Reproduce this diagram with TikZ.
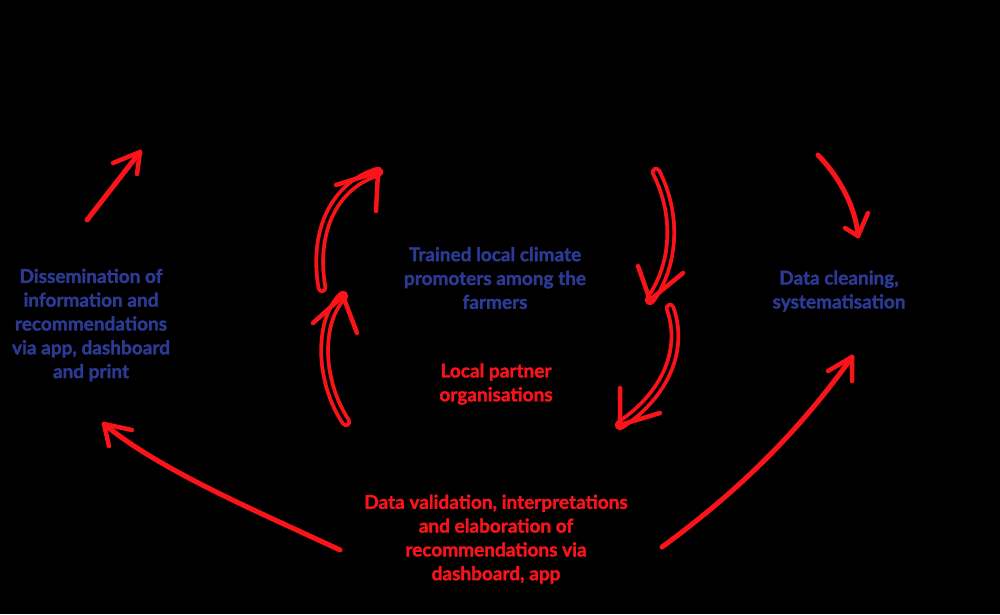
\documentclass[tikz,border=0pt]{standalone}
\usepackage{fontspec}
\setmainfont{Lato}[BoldFeatures={FakeBold=1.6}]
\definecolor{tblue}{RGB}{44,58,148}
\definecolor{tred}{RGB}{250,20,25}
\begin{document}
\begin{tikzpicture}[x=1pt,y=-1pt,
  lbl/.style={font=\fontsize{19}{23.8}\selectfont\bfseries, align=center, inner sep=0pt},
  bl/.style={lbl, text=tblue},
  rl/.style={lbl, text=tred},
  stroke/.style={draw=tred, line width=5pt, line cap=round, line join=round},
  dstroke/.style={draw=tred, line width=3.8pt, double=black, double distance=3pt, line cap=round},
  headv/.style={draw=tred, line width=4.5pt, line cap=round, line join=round}]
\fill[black] (0,0) rectangle (1000,614);
\useasboundingbox (0,0) rectangle (1000,614);

% labels
\node[bl] (diss) at (91,325) {Dissemination of\\information and\\recommendations\\via app, dashboard\\and print};
\node[bl] (trained) at (495,278) {Trained local climate\\promoters among the\\farmers};
\node[rl] (partner) at (496,384) {Local partner\\organisations};
\node[bl] (clean) at (839,291) {Data cleaning,\\systematisation};
\node[rl] (valid) at (496,539) {Data validation, interpretations\\and elaboration of\\recommendations via\\dashboard, app};

% arrow coordinates
\coordinate (a1s) at (87,220);   \coordinate (a1t) at (140,152);
\coordinate (a1w1) at (113,163); \coordinate (a1w2) at (137,174);

\coordinate (a2s) at (818,155);  \coordinate (a2t) at (858,236);
\coordinate (a2w1) at (845,228); \coordinate (a2w2) at (868,213);

\coordinate (a3s) at (340,550);  \coordinate (a3t) at (104,424);
\coordinate (a3w1) at (132,430); \coordinate (a3w2) at (109,446);

\coordinate (a4s) at (662,547);  \coordinate (a4t) at (852,357);
\coordinate (a4w1) at (828,371); \coordinate (a4w2) at (852,381);

\coordinate (b1s) at (322,288);  \coordinate (b1t) at (378,172);
\coordinate (b1w1) at (336,185); \coordinate (b1w2) at (376,211);

\coordinate (b2s) at (346,422);  \coordinate (b2t) at (343,296);
\coordinate (b2w1) at (313,323); \coordinate (b2w2) at (357,333);

\coordinate (c1s) at (656,172);  \coordinate (c1t) at (650,300);
\coordinate (c1w1) at (638,266); \coordinate (c1w2) at (683,273);

\coordinate (c2s) at (670,308);  \coordinate (c2t) at (620,425);
\coordinate (c2w1) at (620,388); \coordinate (c2w2) at (660,413);

% outer arrows
\draw[stroke] (a1s) -- (a1t);
\draw[headv] (a1w1) -- (a1t) -- (a1w2);

\draw[stroke] (a2s) .. controls (842,180) and (856,210) .. (a2t);
\draw[headv] (a2w1) -- (a2t) -- (a2w2);

\draw[stroke] (a3s) .. controls (250,508) and (160,470) .. (a3t);
\draw[headv] (a3w1) -- (a3t) -- (a3w2);

\draw[stroke] (a4s) .. controls (740,490) and (800,430) .. (a4t);
\draw[headv] (a4w1) -- (a4t) -- (a4w2);

% inner double arrows
\draw[dstroke] (b1s) .. controls (312,230) and (335,185) .. (b1t);
\draw[headv] (b1w1) -- (b1t) -- (b1w2);

\draw[dstroke] (b2s) .. controls (318,380) and (318,320) .. (b2t);
\draw[headv] (b2w1) -- (b2t) -- (b2w2);

\draw[dstroke] (c1s) .. controls (678,215) and (675,265) .. (c1t);
\draw[headv] (c1w1) -- (c1t) -- (c1w2);

\draw[dstroke] (c2s) .. controls (685,350) and (665,395) .. (c2t);
\draw[headv] (c2w1) -- (c2t) -- (c2w2);
\end{tikzpicture}
\end{document}
